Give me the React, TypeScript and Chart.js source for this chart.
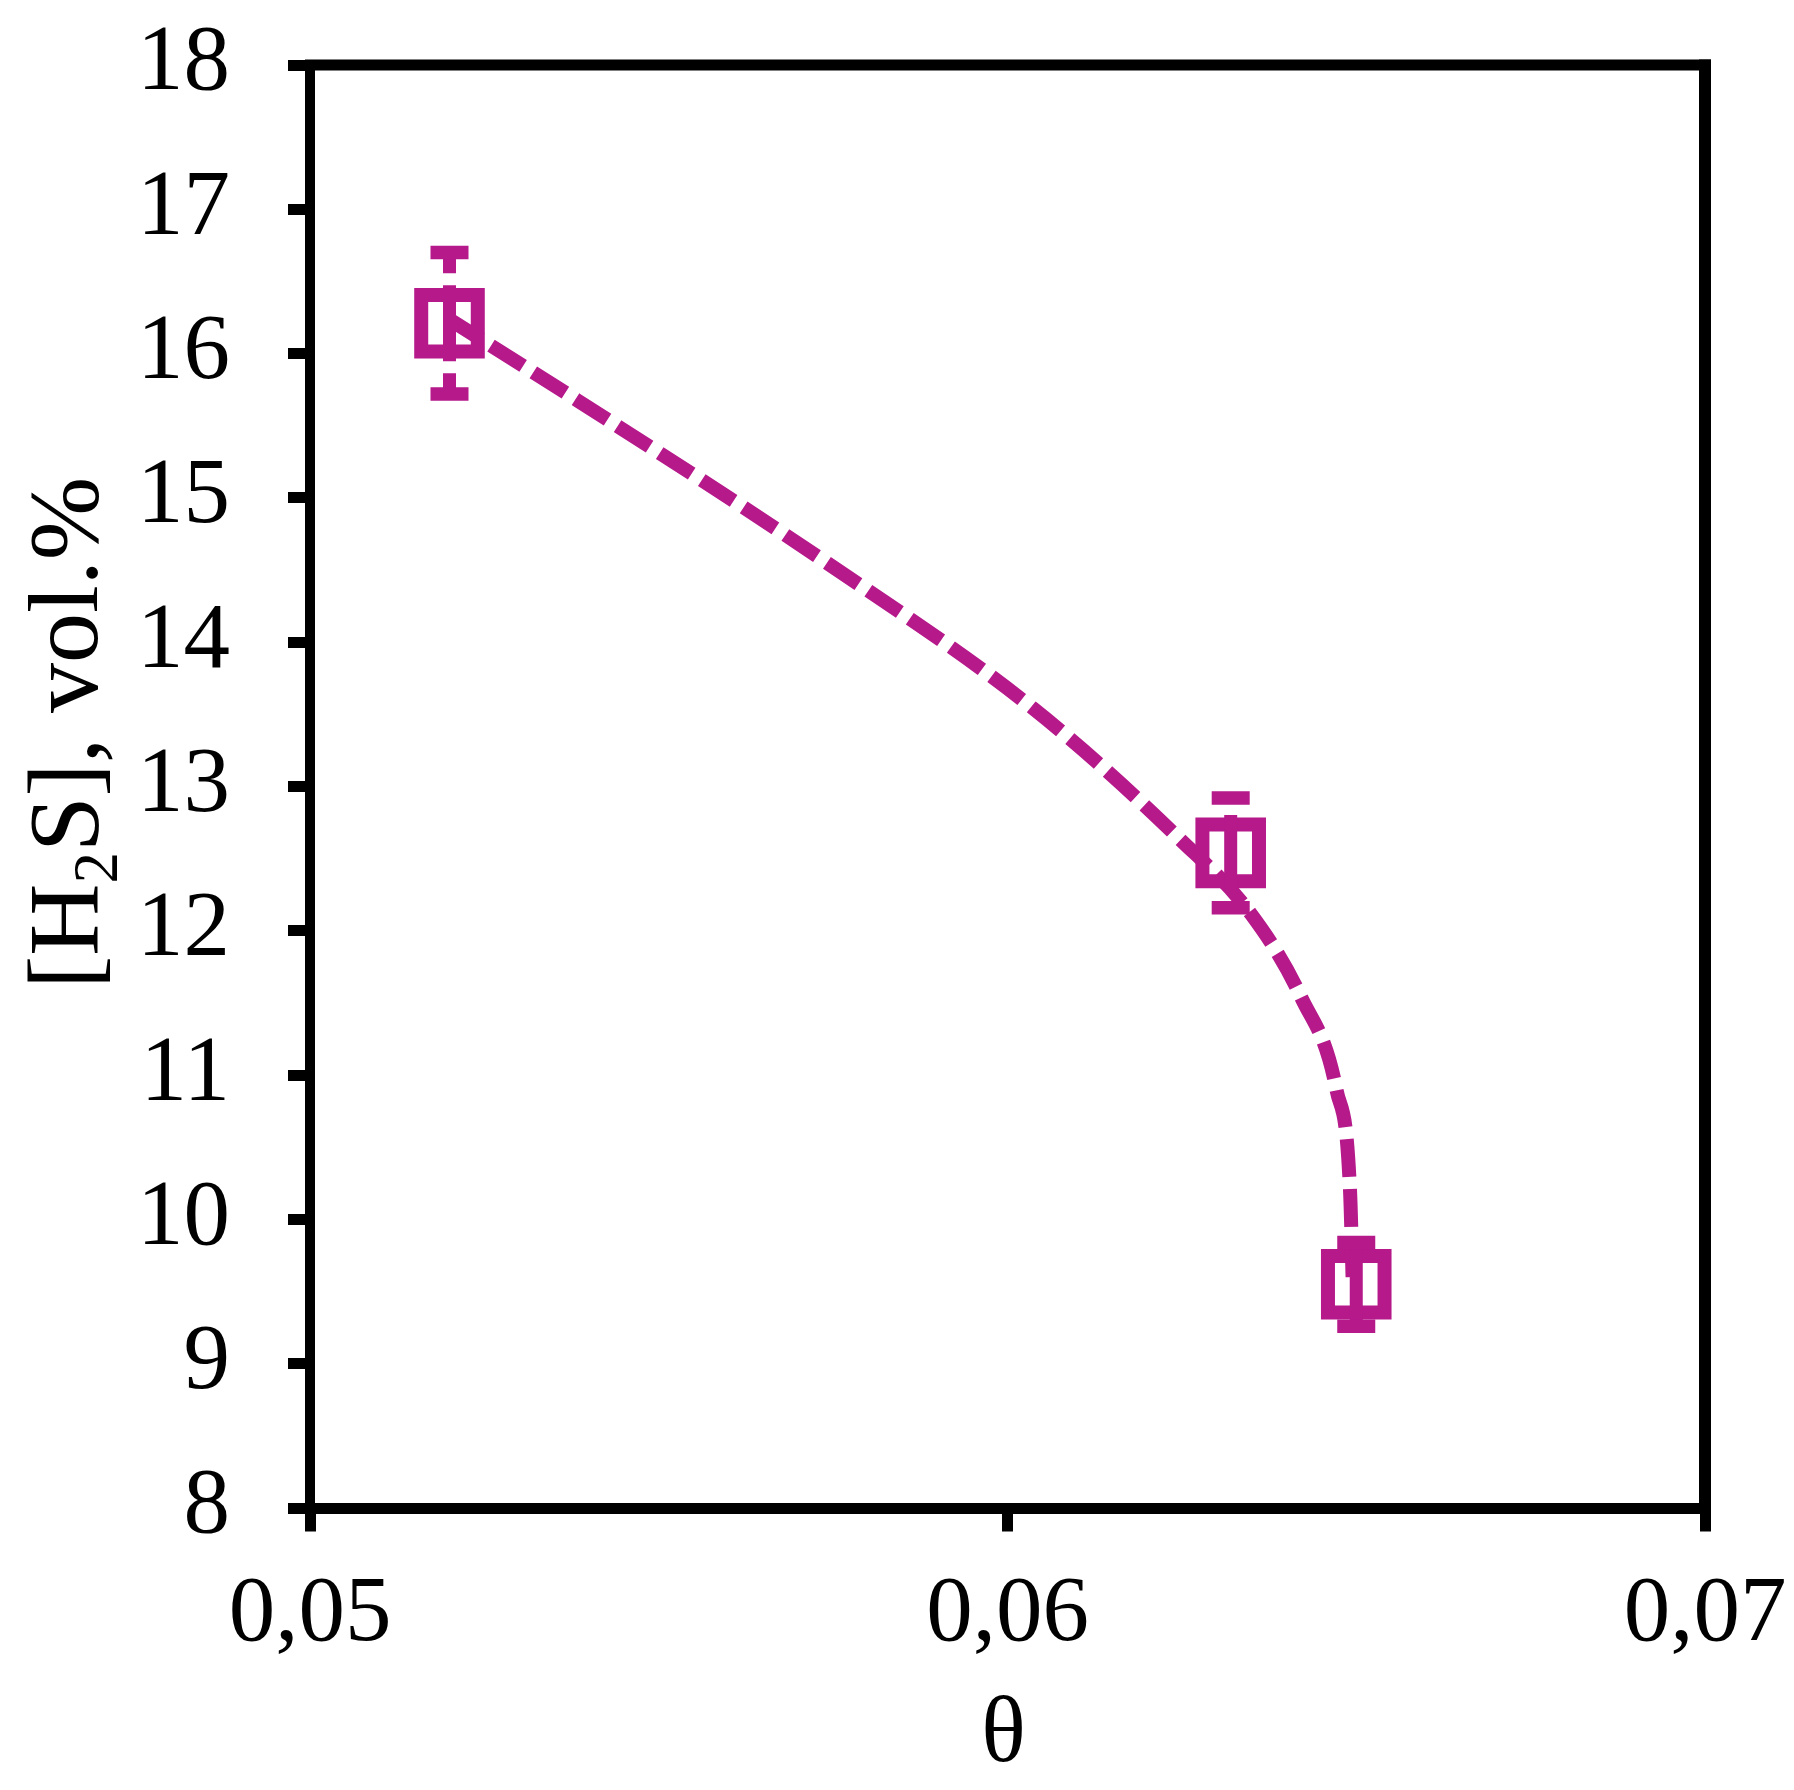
import React, { useEffect, useRef } from 'react';
import { Chart, registerables } from 'chart.js';

Chart.register(...registerables);

// ---- Data: measured points with error bars ----
const thetaValues = [0.052, 0.0632, 0.065];
const h2sValues = [16.21, 12.54, 9.55];
const h2sErrors = [0.49, 0.38, 0.29];

// ---- Data: dashed smoothed curve ----
const curveTheta = [0.05199, 0.05382, 0.05741, 0.06037, 0.06246, 0.0635, 0.06421, 0.06472, 0.06491, 0.06495];
const curveH2S = [16.24, 15.68, 14.55, 13.54, 12.64, 12.11, 11.54, 10.89, 10.21, 9.55];

const xTickValues = [0.05, 0.06, 0.07];
const yTickValues = [8, 9, 10, 11, 12, 13, 14, 15, 16, 17, 18];
const xTitle = 'θ';
const yTitleMain1 = '[H';
const yTitleSub = '2';
const yTitleMain2 = 'S], vol.%';

const COLOR = '#B5198A';
const FONT = '"Liberation Serif", "Times New Roman", serif';

const framePlugin = {
  id: 'frame',
  beforeDatasetsDraw(chart: any) {
    const { ctx, chartArea: a } = chart;
    ctx.save();
    ctx.strokeStyle = '#000';
    ctx.lineCap = 'butt';
    ctx.lineWidth = 11;
    ctx.beginPath();
    ctx.moveTo(a.left - 5, a.top);
    ctx.lineTo(a.right + 6, a.top);
    ctx.stroke();
    ctx.lineWidth = 12;
    ctx.beginPath();
    ctx.moveTo(a.right, a.top - 5.5);
    ctx.lineTo(a.right, a.bottom);
    ctx.stroke();
    ctx.restore();
  },
};

const errorBarPlugin = {
  id: 'errorBars',
  afterDatasetsDraw(chart: any) {
    const { ctx } = chart;
    const yScale = chart.scales.y;
    const meta = chart.getDatasetMeta(1);
    ctx.save();
    ctx.strokeStyle = COLOR;
    ctx.lineCap = 'butt';
    meta.data.forEach((pt: any, i: number) => {
      const cx = pt.x;
      const cy = pt.y;
      const yTop = yScale.getPixelForValue(h2sValues[i] + h2sErrors[i]);
      const yBot = yScale.getPixelForValue(h2sValues[i] - h2sErrors[i]);
      ctx.lineWidth = 13;
      ctx.setLineDash([38, 12]);
      ctx.beginPath();
      ctx.moveTo(cx, cy);
      ctx.lineTo(cx, yTop);
      ctx.moveTo(cx, cy);
      ctx.lineTo(cx, yBot);
      ctx.stroke();
      ctx.setLineDash([]);
      ctx.lineWidth = 13.5;
      ctx.beginPath();
      ctx.moveTo(cx - 19, yTop);
      ctx.lineTo(cx + 19, yTop);
      ctx.moveTo(cx - 19, yBot);
      ctx.lineTo(cx + 19, yBot);
      ctx.stroke();
    });
    ctx.restore();
  },
};

const titlesPlugin = {
  id: 'axisTitles',
  afterDraw(chart: any) {
    const { ctx, chartArea: a } = chart;
    ctx.save();
    ctx.fillStyle = '#000';
    // x title
    ctx.font = `93px ${FONT}`;
    ctx.textAlign = 'center';
    ctx.textBaseline = 'alphabetic';
    ctx.fillText(xTitle, (a.left + a.right) / 2 - 4, 1761);
    // y title with subscript
    const mainFont = `100px ${FONT}`;
    const subFont = `63px ${FONT}`;
    ctx.font = mainFont;
    const w1 = ctx.measureText(yTitleMain1).width;
    const w3 = ctx.measureText(yTitleMain2).width;
    ctx.font = subFont;
    const w2 = ctx.measureText(yTitleSub).width;
    const total = w1 + w2 + w3;
    ctx.translate(97, 733);
    ctx.rotate(-Math.PI / 2);
    ctx.textAlign = 'left';
    let x = -total / 2;
    ctx.font = mainFont;
    ctx.fillText(yTitleMain1, x, 0);
    x += w1;
    ctx.font = subFont;
    ctx.fillText(yTitleSub, x, 20);
    x += w2;
    ctx.font = mainFont;
    ctx.fillText(yTitleMain2, x, 0);
    ctx.restore();
  },
};

export default function App() {
  const canvasRef = useRef<HTMLCanvasElement | null>(null);

  useEffect(() => {
    document.body.style.margin = '0';
    const canvas = canvasRef.current;
    if (!canvas) return;
    const chart = new Chart(canvas, {
      type: 'line',
      data: {
        datasets: [
          {
            data: curveTheta.map((x, i) => ({ x, y: curveH2S[i] })),
            borderColor: COLOR,
            borderWidth: 14,
            borderDash: [38, 12],
            borderCapStyle: 'butt',
            cubicInterpolationMode: 'monotone',
            fill: false,
            pointRadius: 0,
            pointHoverRadius: 0,
            clip: false as any,
          },
          {
            data: thetaValues.map((x, i) => ({ x, y: h2sValues[i] })),
            showLine: false,
            borderColor: COLOR,
            pointStyle: 'rect',
            pointRadius: 40,
            pointHoverRadius: 40,
            pointBorderWidth: 14,
            pointBorderColor: COLOR,
            pointBackgroundColor: 'rgba(0,0,0,0)',
            clip: false as any,
          },
        ],
      },
      options: {
        animation: false,
        responsive: false,
        devicePixelRatio: 1,
        layout: { padding: { top: 65, right: 89, left: 0, bottom: 0 } },
        plugins: {
          legend: { display: false },
          tooltip: { enabled: false },
        },
        events: [],
        scales: {
          x: {
            type: 'linear',
            min: 0.05,
            max: 0.07,
            afterBuildTicks: (s: any) => {
              s.ticks = xTickValues.map((v) => ({ value: v }));
            },
            afterFit: (s: any) => {
              s.height = 282;
              s.paddingLeft = 0;
              s.paddingRight = 0;
              s.paddingTop = 0;
              s.paddingBottom = 0;
            },
            ticks: {
              autoSkip: false,
              maxRotation: 0,
              padding: 28,
              color: '#000',
              font: { family: FONT, size: 93 },
              callback: (v: any) => Number(v).toFixed(2).replace('.', ','),
            },
            grid: {
              drawOnChartArea: false,
              drawTicks: true,
              tickLength: 23.5,
              lineWidth: 11,
              color: '#000',
            },
            border: { display: true, width: 11, color: '#000' },
          },
          y: {
            type: 'linear',
            min: 8,
            max: 18,
            afterBuildTicks: (s: any) => {
              s.ticks = yTickValues.map((v) => ({ value: v }));
            },
            afterFit: (s: any) => {
              s.width = 310;
              s.paddingLeft = 0;
              s.paddingRight = 0;
              s.paddingTop = 0;
              s.paddingBottom = 0;
            },
            ticks: {
              autoSkip: false,
              padding: 58,
              color: '#000',
              font: { family: FONT, size: 93 },
              callback: (v: any) => String(v),
            },
            grid: {
              drawOnChartArea: false,
              drawTicks: true,
              tickLength: 22,
              lineWidth: 11,
              color: '#000',
            },
            border: { display: true, width: 10, color: '#000' },
          },
        },
      },
      plugins: [framePlugin, errorBarPlugin, titlesPlugin],
    });
    return () => {
      chart.destroy();
    };
  }, []);

  return (
    <div style={{ position: 'absolute', left: 0, top: 0, width: 1794, height: 1790, background: '#fff' }}>
      <canvas ref={canvasRef} width={1794} height={1790} style={{ display: 'block', width: 1794, height: 1790 }} />
    </div>
  );
}
